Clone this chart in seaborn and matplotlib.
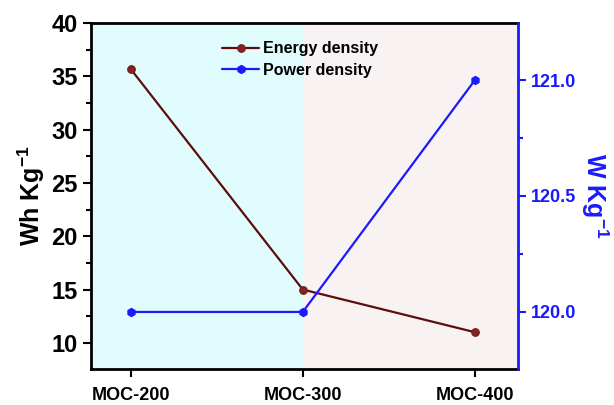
import matplotlib
matplotlib.use("Agg")
import matplotlib.pyplot as plt
import seaborn as sns
import pandas as pd
from matplotlib.ticker import MultipleLocator

samples = ["MOC-200", "MOC-300", "MOC-400"]
energy_density = [35.7, 15.0, 11.0]
power_density = [120.0, 120.0, 121.0]

sns.set_style("ticks")
plt.rcParams['font.family'] = ['Liberation Sans', 'DejaVu Sans']
plt.rcParams['font.weight'] = 'bold'
plt.rcParams['mathtext.fontset'] = 'custom'
plt.rcParams['mathtext.rm'] = 'Liberation Sans:bold'
plt.rcParams['mathtext.bf'] = 'Liberation Sans:bold'
plt.rcParams['mathtext.default'] = 'bf'

df = pd.DataFrame({"x": range(len(samples)), "energy": energy_density, "power": power_density})

fig = plt.figure(figsize=(6.14, 4.05), dpi=100)
ax = fig.add_axes([91/614, 1-369/405, (518-91)/614, (369-23)/405])
ax2 = ax.twinx()

ecol = "#5e0d0d"
pcol = "#1a1aff"

ax.axvspan(-0.5, 1, color="#e0fcfc", zorder=0, lw=0)
ax.axvspan(1, 2.5, color="#f8f2f2", zorder=0, lw=0)

sns.lineplot(data=df, x="x", y="energy", ax=ax, color=ecol, marker="o", markersize=5.5,
             markeredgecolor="#6a1a1a", markerfacecolor="#8b2020", lw=1.6, label="Energy density", legend=False)
sns.lineplot(data=df, x="x", y="power", ax=ax2, color=pcol, marker="h", markersize=6,
             markeredgecolor=pcol, lw=1.6, label="Power density", legend=False)

ax.set_xlim(-0.23, 2.25)
ax.set_ylim(7.55, 40)
ax2.set_ylim(119.754, 121.246)
ax.set_xticks(range(len(samples)))
ax.set_xticklabels(samples)
ax.yaxis.set_major_locator(MultipleLocator(5))
ax.yaxis.set_minor_locator(MultipleLocator(2.5))
ax2.yaxis.set_major_locator(MultipleLocator(0.5))
ax2.yaxis.set_minor_locator(MultipleLocator(0.25))

ax.set_xlabel("")
ax.set_ylabel("Wh Kg$^{-1}$", fontsize=18, fontweight='bold', labelpad=3, color="black")
ax2.set_ylabel("W Kg$^{-1}$", fontsize=18, fontweight='bold', color=pcol, rotation=270, labelpad=24)

for lab in ax.get_yticklabels():
    lab.set_fontsize(17); lab.set_fontweight('bold'); lab.set_color("black")
for lab in ax.get_xticklabels():
    lab.set_fontsize(13); lab.set_fontweight('bold'); lab.set_color("black")
for lab in ax2.get_yticklabels():
    lab.set_fontsize(13); lab.set_fontweight('bold'); lab.set_color(pcol)

ax.tick_params(axis='both', which='major', direction='out', length=6, width=1.5, color="black")
ax.tick_params(axis='x', which='major', pad=7)
ax.tick_params(axis='y', which='minor', direction='out', length=3.5, width=1.5, color="black")
ax2.tick_params(axis='y', which='major', direction='out', length=6, width=1.5, color=pcol)
ax2.tick_params(axis='y', which='minor', direction='out', length=3.5, width=1.5, color=pcol)

for s in ["left", "top", "bottom"]:
    ax2.spines[s].set_visible(False)
for s in ["left", "top", "bottom"]:
    ax.spines[s].set_linewidth(2)
    ax.spines[s].set_color("black")
ax.spines["right"].set_visible(False)
ax2.spines["right"].set_visible(True)
ax2.spines["right"].set_color(pcol)
ax2.spines["right"].set_linewidth(2)

h1, l1 = ax.get_legend_handles_labels()
h2, l2 = ax2.get_legend_handles_labels()
leg = ax2.legend(h1 + h2, l1 + l2, loc="upper left", bbox_to_anchor=(216/614, 1 - 35/405),
                 bbox_transform=fig.transFigure, frameon=False, fontsize=11.5,
                 handlelength=2.3, handletextpad=0.25, labelspacing=0.4, borderaxespad=0)
for t in leg.get_texts():
    t.set_fontweight('bold')
    t.set_color("black")

fig.savefig("out.png", dpi=100)
